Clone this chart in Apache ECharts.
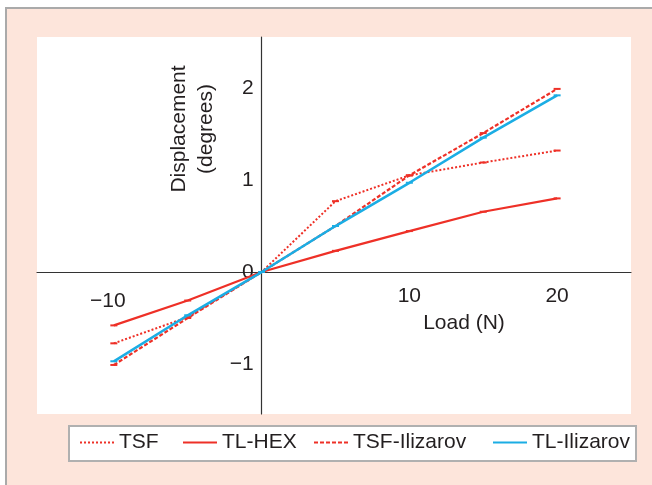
<!DOCTYPE html>
<html>
<head>
<meta charset="utf-8">
<script src="https://cdn.jsdelivr.net/npm/echarts@6/dist/echarts.min.js"></script>
<style>
  html, body { margin: 0; padding: 0; background: #fff; }
  #frame {
    position: absolute; left: 5px; top: 7px; width: 660px; height: 490px;
    background: #fde5db; border-top: 2px solid #aaaaaa; border-left: 2px solid #aaaaaa;
  }
  #chart { position: absolute; left: 0; top: 0; width: 652px; height: 485px; }
</style>
</head>
<body>
<div id="frame"></div>
<div id="chart"></div>
<script>
// load values (N)
const loads = [-10, -5, 0, 5, 10, 15, 20]
// displacement (degrees) per fixator
const tsf = [-0.775, -0.49, 0, 0.77, 1.05, 1.19, 1.32]
const tlHex = [-0.58, -0.31, 0, 0.23, 0.445, 0.655, 0.80]
const tsfIlizarov = [-1.01, -0.50, 0, 0.50, 1.05, 1.51, 1.99]
const tlIlizarov = [-0.97, -0.47, 0, 0.50, 0.97, 1.46, 1.92]
// tick labels shown
const xTicks = [-10, 10, 20]
const yTicks = [-1, 0, 1, 2]

const RED = '#ee3027'
const BLUE = '#1badE4'
const TEXT = '#231f20'
const FONT = 'Liberation Sans, Arial, sans-serif'
const FS = 21

const X_MIN = -15.2, X_MAX = 25
const Y_MIN = -1.543, Y_MAX = 2.554
const GRID = { left: 37, right: 21, top: 37, bottom: 71 }
const gridW = 652 - GRID.left - GRID.right
const gridH = 485 - GRID.top - GRID.bottom
// move both axes so they cross at (0, 0)
const xAxisOffset = -(0 - Y_MIN) / (Y_MAX - Y_MIN) * gridH
const yAxisOffset = -(0 - X_MIN) / (X_MAX - X_MIN) * gridW

const fmt = v => (v < 0 ? '\u2212' + Math.abs(v) : String(v))
const pairs = arr => loads.map((x, i) => [x, arr[i]])

const seriesDefs = [
  { name: 'TSF', data: tsf, color: RED, type: [2, 2], width: 2 },
  { name: 'TL-HEX', data: tlHex, color: RED, type: 'solid', width: 2.2 },
  { name: 'TSF-Ilizarov', data: tsfIlizarov, color: RED, type: [4, 2], width: 2.2 },
  { name: 'TL-Ilizarov', data: tlIlizarov, color: BLUE, type: 'solid', width: 2.6 },
]
const legendLeft = [79, 182, 313, 492]

const chart = echarts.init(document.getElementById('chart'))
chart.setOption({
  animation: false,
  textStyle: { fontFamily: FONT },
  grid: Object.assign({ show: true, backgroundColor: '#ffffff', borderWidth: 0 }, GRID),
  xAxis: {
    type: 'value', min: X_MIN, max: X_MAX,
    offset: xAxisOffset,
    axisLine: { onZero: false, lineStyle: { color: '#333', width: 1.2 } },
    axisTick: { show: false },
    splitLine: { show: false },
    axisLabel: {
      customValues: xTicks,
      fontSize: FS, color: TEXT, margin: 13, lineHeight: 22,
      formatter: v => (v < 0 ? '{n|' + fmt(v) + '}' : fmt(v)),
      rich: { n: { fontSize: FS, color: TEXT, lineHeight: 22, padding: [10, 12, 0, 0] } },
    },
  },
  yAxis: {
    type: 'value', min: Y_MIN, max: Y_MAX,
    offset: yAxisOffset,
    axisLine: { onZero: false, lineStyle: { color: '#333', width: 1.2 } },
    axisTick: { show: false },
    splitLine: { show: false },
    axisLabel: {
      customValues: yTicks,
      fontSize: FS, color: TEXT, margin: 8,
      formatter: fmt,
    },
  },
  legend: seriesDefs.map((s, i) => ({
    data: [s.name],
    left: legendLeft[i], top: 432, padding: 0,
    itemWidth: 34, itemHeight: 14, itemGap: 0,
    itemStyle: { opacity: 0 },
    textStyle: { fontSize: FS, color: TEXT, fontFamily: FONT },
    selectedMode: false,
  })),
  graphic: [
    {
      type: 'rect', z: -1,
      shape: { x: 69, y: 426, width: 567, height: 35 },
      style: { fill: '#ffffff', stroke: '#b0b0b0', lineWidth: 2 },
    },
    {
      type: 'text', x: 464, y: 323,
      style: { text: 'Load (N)', fontSize: FS, fontFamily: FONT, fill: TEXT, align: 'center', verticalAlign: 'middle' },
    },
    {
      type: 'text', x: 193, y: 129, rotation: Math.PI / 2,
      style: {
        text: 'Displacement\n(degrees)', fontSize: FS, lineHeight: 27, fontFamily: FONT, fill: TEXT,
        align: 'center', verticalAlign: 'middle',
      },
    },
  ],
  series: seriesDefs.map(s => ({
    name: s.name,
    type: 'line',
    data: pairs(s.data),
    symbol: 'rect',
    symbolSize: [7, 2],
    itemStyle: { color: s.color },
    lineStyle: { color: s.color, width: s.width, type: s.type },
    z: s.color === BLUE ? 3 : 2,
  })),
})
</script>
</body>
</html>
